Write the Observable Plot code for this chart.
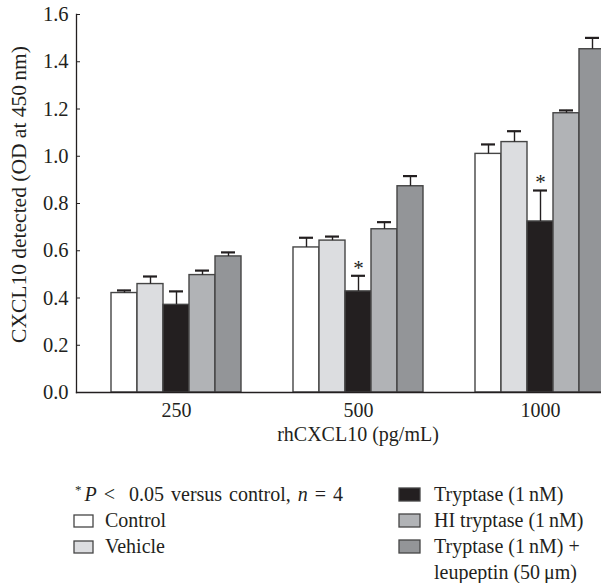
<!DOCTYPE html>
<html><head><meta charset="utf-8">
<script src="https://cdn.jsdelivr.net/npm/d3@7"></script>
<script src="https://cdn.jsdelivr.net/npm/@observablehq/plot@0.6"></script>
<style>
body{margin:0;background:#fff;}
#chart{position:relative;width:601px;height:583px;overflow:hidden;background:#fff;font-family:"Liberation Serif","Times New Roman",serif;color:#231f20;}
#chart svg{position:absolute;left:0;}
#chart text{white-space:pre;}
</style></head><body><div id="chart"></div>
<script>
// ---- data ----
const doses = ["250", "500", "1000"];
const treatments = ["Control", "Vehicle", "Tryptase (1\u2009nM)", "HI tryptase (1\u2009nM)", "Tryptase (1\u2009nM) + leupeptin (50\u2009\u03bcm)"];
const fills = ["#ffffff", "#dcdde0", "#231f20", "#b1b3b6", "#939598"];
const control = [0.421, 0.614, 1.010];
const controlErr = [0.011, 0.041, 0.040];
const vehicle = [0.459, 0.643, 1.060];
const vehicleErr = [0.032, 0.017, 0.046];
const tryptase = [0.371, 0.428, 0.724];
const tryptaseErr = [0.057, 0.066, 0.131];
const hiTryptase = [0.497, 0.691, 1.182];
const hiTryptaseErr = [0.019, 0.030, 0.012];
const tryptaseLeupeptin = [0.576, 0.873, 1.453];
const tryptaseLeupeptinErr = [0.017, 0.043, 0.048];
const significantDoses = ["500", "1000"]; // tryptase vs control, *P < 0.05
const yTicks = [0, 0.2, 0.4, 0.6, 0.8, 1.0, 1.2, 1.4, 1.6];
const yLabel = "CXCL10 detected (OD at 450\u2009nm)";
const xLabel = "rhCXCL10 (pg/mL)";
const legendLeft = ["Control", "Vehicle"];
const legendRight = [["Tryptase (1\u2009nM)"], ["HI tryptase (1\u2009nM)"], ["Tryptase (1\u2009nM) +", "leupeptin (50\u2009\u03bcm)"]];

const series = [control, vehicle, tryptase, hiTryptase, tryptaseLeupeptin];
const errs = [controlErr, vehicleErr, tryptaseErr, hiTryptaseErr, tryptaseLeupeptinErr];
const rows = doses.flatMap((dose, i) => treatments.map((t, j) => ({
  dose, treatment: t, mean: series[j][i], top: series[j][i] + errs[j][i],
  sig: j === 2 && significantDoses.includes(dose)
})));

const ink = "#231f20";
const font = '"Liberation Serif", "Times New Roman", serif';
const common = {width: 601, height: 455, marginLeft: 76, marginRight: 0, marginTop: 14, marginBottom: 63};
const band = {domain: doses, range: [76, 639], paddingInner: 0.288, paddingOuter: 0.186};
const yScale = {domain: [0, 1.6]};

const bars = Plot.plot({
  ...common,
  style: {background: "transparent", fontFamily: font, fontSize: "20px", color: ink},
  fx: {...band, axis: null, label: null},
  x: {domain: treatments, padding: 0, axis: null},
  y: {...yScale, axis: null},
  color: {domain: treatments, range: fills},
  marks: [
    Plot.barY(rows, {fx: "dose", x: "treatment", y: "mean", fill: "treatment", stroke: "#454545", strokeWidth: 1.4}),
    Plot.ruleX(rows, {fx: "dose", x: "treatment", y1: "mean", y2: "top", stroke: ink, strokeWidth: 1.4}),
    Plot.tickY(rows, {fx: "dose", x: "treatment", y: "top", inset: 6, stroke: ink, strokeWidth: 2.2}),
    Plot.text(rows.filter(d => d.sig), {fx: "dose", x: "treatment", y: "top", text: () => "*", dy: -8, fontSize: 21, fill: ink})
  ]
});

const axes = Plot.plot({
  ...common,
  style: {background: "transparent", fontFamily: font, fontSize: "20px", color: ink},
  x: {...band, type: "band"},
  y: {...yScale},
  marks: [
    Plot.axisX({tickSize: 0, tickPadding: 10, label: null, fontSize: 20, fill: ink}),
    Plot.axisY({ticks: yTicks, tickFormat: d3.format(".1f"), tickSize: -4, tickPadding: 12, label: null, fontSize: 20.5, fill: ink, stroke: ink}),
    Plot.frame({anchor: "left", stroke: ink, strokeWidth: 1.3}),
    Plot.frame({anchor: "bottom", stroke: ink, strokeWidth: 1.3}),
    Plot.text([yLabel], {frameAnchor: "left", textAnchor: "middle", rotate: -90, dx: -57, dy: -9, fontSize: 21.5, fill: ink}),
    Plot.text([xLabel], {frameAnchor: "bottom", textAnchor: "middle", dx: 19, dy: 48, fontSize: 20, fill: ink})
  ]
});

const chart = document.getElementById("chart");
bars.style.top = "0px";
axes.style.top = "0px";
chart.appendChild(bars);
chart.appendChild(axes);

// ---- legend (below the plot) ----
const leg = d3.select(chart).append("svg")
  .attr("width", 601).attr("height", 128)
  .style("top", "455px")
  .attr("font-family", font).attr("font-size", 20).attr("fill", ink);
const rowY = [46, 72, 98, 124];
const note = leg.append("text").attr("x", 75).attr("y", rowY[0]).attr("word-spacing", 2);
note.append("tspan").attr("font-size", 13).attr("dy", -7).text("*");
note.append("tspan").attr("font-style", "italic").attr("dy", 7).attr("dx", 3).text("P");
note.append("tspan").text(" <  0.05 versus control, ");
note.append("tspan").attr("font-style", "italic").text("n");
note.append("tspan").text(" = 4");

legendLeft.forEach((name, i) => {
  const y = rowY[i + 1];
  leg.append("rect").attr("x", 74).attr("y", y - 12).attr("width", 19).attr("height", 12)
    .attr("fill", fills[treatments.indexOf(name)]).attr("stroke", "#454545").attr("stroke-width", 1.3);
  leg.append("text").attr("x", 105).attr("y", y).text(name);
});
legendRight.forEach((lines, i) => {
  const y = rowY[i];
  leg.append("rect").attr("x", 399).attr("y", y - 13).attr("width", 21).attr("height", 13)
    .attr("fill", fills[i + 2]).attr("stroke", "#454545").attr("stroke-width", 1.3);
  lines.forEach((line, k) => {
    leg.append("text").attr("x", 434).attr("y", rowY[i + k]).text(line);
  });
});
</script></body></html>
